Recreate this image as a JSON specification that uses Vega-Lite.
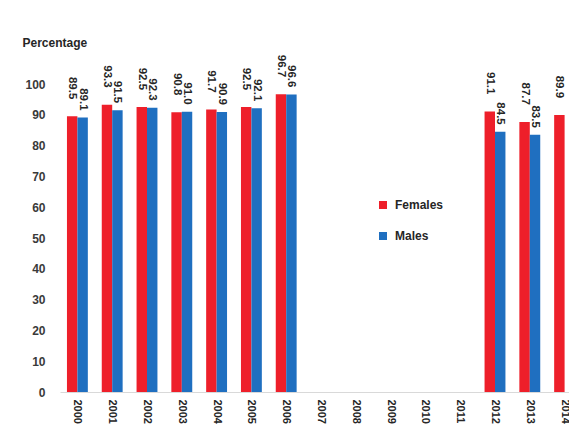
{
  "$schema": "https://vega.github.io/schema/vega-lite/v6.json",
  "width": 509,
  "height": 308,
  "autosize": {"type": "none"},
  "padding": {"left": 60, "top": 84, "right": 0, "bottom": 42},
  "background": "white",
  "config": {
    "view": {"stroke": null},
    "font": "Liberation Sans",
    "axis": {"labelFont": "Liberation Sans", "titleFont": "Liberation Sans"},
    "legend": {"labelFont": "Liberation Sans"}
  },
  "data": {
    "values": [
      {"year": "2000", "sex": "Females", "value": 89.5},
      {"year": "2000", "sex": "Males", "value": 89.1},
      {"year": "2001", "sex": "Females", "value": 93.3},
      {"year": "2001", "sex": "Males", "value": 91.5},
      {"year": "2002", "sex": "Females", "value": 92.5},
      {"year": "2002", "sex": "Males", "value": 92.3},
      {"year": "2003", "sex": "Females", "value": 90.8},
      {"year": "2003", "sex": "Males", "value": 91.0},
      {"year": "2004", "sex": "Females", "value": 91.7},
      {"year": "2004", "sex": "Males", "value": 90.9},
      {"year": "2005", "sex": "Females", "value": 92.5},
      {"year": "2005", "sex": "Males", "value": 92.1},
      {"year": "2006", "sex": "Females", "value": 96.7},
      {"year": "2006", "sex": "Males", "value": 96.6},
      {"year": "2012", "sex": "Females", "value": 91.1},
      {"year": "2012", "sex": "Males", "value": 84.5},
      {"year": "2013", "sex": "Females", "value": 87.7},
      {"year": "2013", "sex": "Males", "value": 83.5},
      {"year": "2014", "sex": "Females", "value": 89.9}
    ]
  },
  "encoding": {
    "x": {
      "field": "year",
      "type": "nominal",
      "scale": {
        "domain": ["2000","2001","2002","2003","2004","2005","2006","2007","2008","2009","2010","2011","2012","2013","2014"],
        "range": [0, 522],
        "paddingInner": 0.4,
        "paddingOuter": 0.2
      },
      "axis": {
        "title": null,
        "labelAngle": 90,
        "labelAlign": "left",
        "labelBaseline": "middle",
        "labelPadding": 7,
        "labelFontSize": 11,
        "labelFontWeight": "bold",
        "labelColor": "#262626",
        "labelOverlap": false,
        "labelBound": false,
        "ticks": false,
        "domainColor": "#d9d9d9",
        "domainWidth": 1
      }
    },
    "xOffset": {
      "field": "sex",
      "type": "nominal",
      "scale": {"domain": ["Females", "Males"], "paddingInner": 0, "paddingOuter": 0}
    },
    "y": {
      "field": "value",
      "type": "quantitative",
      "scale": {"domain": [0, 100], "nice": false},
      "axis": {
        "title": "Percentage",
        "titleAngle": 0,
        "titleAlign": "left",
        "titleBaseline": "alphabetic",
        "titleX": -38,
        "titleY": -38,
        "titleFontSize": 12,
        "titleFontWeight": "bold",
        "titleColor": "#262626",
        "values": [0,10,20,30,40,50,60,70,80,90,100],
        "labelPadding": 15,
        "labelFontSize": 12,
        "labelFontWeight": "bold",
        "labelColor": "#3a3a3a",
        "domain": false,
        "ticks": false,
        "grid": false
      }
    }
  },
  "layer": [
    {
      "mark": {"type": "bar"},
      "encoding": {
        "color": {
          "field": "sex",
          "type": "nominal",
          "scale": {"domain": ["Females", "Males"], "range": ["#ee1f2a", "#1f6fc0"]},
          "legend": {
            "title": null,
            "orient": "none",
            "legendX": 317,
            "legendY": 115,
            "symbolType": "square",
            "symbolSize": 64,
            "symbolStrokeWidth": 0,
            "labelFontSize": 12,
            "labelFontWeight": "bold",
            "labelColor": "#262626",
            "labelOffset": 6,
            "rowPadding": 19
          }
        }
      }
    },
    {
      "transform": [{"filter": "datum.sex === 'Females'"}],
      "mark": {"type": "text", "angle": 90, "align": "right", "baseline": "middle", "dx": -17, "fontSize": 11.5, "fontWeight": "bold", "color": "#262626"},
      "encoding": {"text": {"field": "value", "type": "quantitative", "format": ".1f"}}
    },
    {
      "transform": [{"filter": "datum.sex === 'Males'"}],
      "mark": {"type": "text", "angle": 90, "align": "right", "baseline": "middle", "dx": -7, "fontSize": 11.5, "fontWeight": "bold", "color": "#262626"},
      "encoding": {"text": {"field": "value", "type": "quantitative", "format": ".1f"}}
    }
  ]
}
